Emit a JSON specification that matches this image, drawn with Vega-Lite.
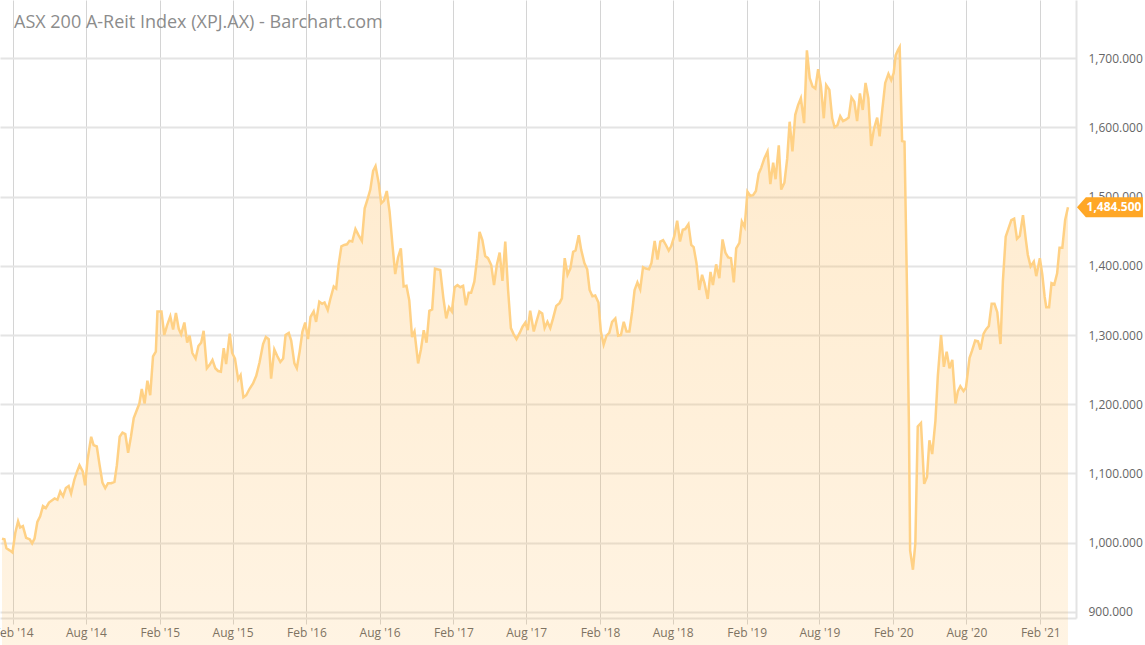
{
  "$schema": "https://vega.github.io/schema/vega-lite/v6.json",
  "width": 1076,
  "height": 618,
  "padding": {"left": 0, "top": 0, "right": 69, "bottom": 27},
  "autosize": {"type": "none"},
  "background": "#ffffff",
  "config": {"view": {"stroke": null}, "font": "Open Sans"},
  "title": {
    "text": "ASX 200 A-Reit Index (XPJ.AX) - Barchart.com",
    "anchor": "start",
    "frame": "group",
    "orient": "top",
    "offset": -46,
    "baseline": "alphabetic",
    "dx": 14,
    "fontSize": 18,
    "fontWeight": "normal",
    "color": "#8c8c8c",
    "font": "Open Sans"
  },
  "datasets": {
    "prices": [
      {"date": "2014-01-04", "close": 1006}, {"date": "2014-01-10", "close": 1005}, {"date": "2014-01-15", "close": 992}, {"date": "2014-01-23", "close": 989}, {"date": "2014-01-30", "close": 986},
      {"date": "2014-02-06", "close": 1014}, {"date": "2014-02-13", "close": 1031}, {"date": "2014-02-18", "close": 1022}, {"date": "2014-02-25", "close": 1024}, {"date": "2014-03-05", "close": 1007},
      {"date": "2014-03-14", "close": 1005}, {"date": "2014-03-20", "close": 999}, {"date": "2014-03-26", "close": 1006}, {"date": "2014-04-02", "close": 1030}, {"date": "2014-04-09", "close": 1038},
      {"date": "2014-04-16", "close": 1053}, {"date": "2014-04-23", "close": 1050}, {"date": "2014-05-01", "close": 1058}, {"date": "2014-05-08", "close": 1061}, {"date": "2014-05-15", "close": 1064},
      {"date": "2014-05-22", "close": 1062}, {"date": "2014-05-29", "close": 1074}, {"date": "2014-06-05", "close": 1067}, {"date": "2014-06-12", "close": 1079}, {"date": "2014-06-19", "close": 1082},
      {"date": "2014-06-25", "close": 1071}, {"date": "2014-07-03", "close": 1091}, {"date": "2014-07-10", "close": 1103}, {"date": "2014-07-16", "close": 1112}, {"date": "2014-07-24", "close": 1103},
      {"date": "2014-07-30", "close": 1083}, {"date": "2014-08-05", "close": 1120}, {"date": "2014-08-14", "close": 1153}, {"date": "2014-08-20", "close": 1141}, {"date": "2014-08-28", "close": 1139},
      {"date": "2014-09-04", "close": 1112}, {"date": "2014-09-11", "close": 1087}, {"date": "2014-09-18", "close": 1079}, {"date": "2014-09-25", "close": 1086}, {"date": "2014-10-03", "close": 1086},
      {"date": "2014-10-11", "close": 1088}, {"date": "2014-10-17", "close": 1112}, {"date": "2014-10-24", "close": 1153}, {"date": "2014-10-31", "close": 1159}, {"date": "2014-11-07", "close": 1157},
      {"date": "2014-11-14", "close": 1130}, {"date": "2014-11-21", "close": 1153}, {"date": "2014-11-28", "close": 1180}, {"date": "2014-12-06", "close": 1192}, {"date": "2014-12-12", "close": 1201},
      {"date": "2014-12-18", "close": 1222}, {"date": "2014-12-25", "close": 1201}, {"date": "2015-01-01", "close": 1234}, {"date": "2015-01-08", "close": 1213}, {"date": "2015-01-15", "close": 1269},
      {"date": "2015-01-22", "close": 1276}, {"date": "2015-01-26", "close": 1334}, {"date": "2015-02-05", "close": 1334}, {"date": "2015-02-12", "close": 1300}, {"date": "2015-02-19", "close": 1314},
      {"date": "2015-02-27", "close": 1327}, {"date": "2015-03-06", "close": 1308}, {"date": "2015-03-13", "close": 1332}, {"date": "2015-03-20", "close": 1309}, {"date": "2015-03-26", "close": 1301},
      {"date": "2015-04-03", "close": 1318}, {"date": "2015-04-10", "close": 1289}, {"date": "2015-04-16", "close": 1299}, {"date": "2015-04-23", "close": 1274}, {"date": "2015-05-01", "close": 1266},
      {"date": "2015-05-08", "close": 1284}, {"date": "2015-05-15", "close": 1289}, {"date": "2015-05-21", "close": 1306}, {"date": "2015-05-29", "close": 1252}, {"date": "2015-06-05", "close": 1257},
      {"date": "2015-06-12", "close": 1264}, {"date": "2015-06-19", "close": 1252}, {"date": "2015-06-26", "close": 1248}, {"date": "2015-07-03", "close": 1247}, {"date": "2015-07-10", "close": 1281},
      {"date": "2015-07-16", "close": 1258}, {"date": "2015-07-25", "close": 1302}, {"date": "2015-07-31", "close": 1274}, {"date": "2015-08-07", "close": 1266}, {"date": "2015-08-15", "close": 1236},
      {"date": "2015-08-21", "close": 1242}, {"date": "2015-08-28", "close": 1210}, {"date": "2015-09-04", "close": 1213}, {"date": "2015-09-12", "close": 1222}, {"date": "2015-09-21", "close": 1230},
      {"date": "2015-09-29", "close": 1241}, {"date": "2015-10-07", "close": 1260}, {"date": "2015-10-16", "close": 1287}, {"date": "2015-10-23", "close": 1297}, {"date": "2015-10-30", "close": 1294},
      {"date": "2015-11-05", "close": 1237}, {"date": "2015-11-13", "close": 1279}, {"date": "2015-11-20", "close": 1270}, {"date": "2015-11-28", "close": 1261}, {"date": "2015-12-05", "close": 1266},
      {"date": "2015-12-11", "close": 1300}, {"date": "2015-12-19", "close": 1303}, {"date": "2015-12-25", "close": 1292}, {"date": "2016-01-02", "close": 1259}, {"date": "2016-01-08", "close": 1252},
      {"date": "2016-01-15", "close": 1276}, {"date": "2016-01-22", "close": 1305}, {"date": "2016-01-29", "close": 1318}, {"date": "2016-02-05", "close": 1294}, {"date": "2016-02-11", "close": 1326},
      {"date": "2016-02-19", "close": 1334}, {"date": "2016-02-25", "close": 1319}, {"date": "2016-03-04", "close": 1348}, {"date": "2016-03-11", "close": 1345}, {"date": "2016-03-17", "close": 1347},
      {"date": "2016-03-25", "close": 1336}, {"date": "2016-03-31", "close": 1351}, {"date": "2016-04-09", "close": 1370}, {"date": "2016-04-15", "close": 1367}, {"date": "2016-04-21", "close": 1401},
      {"date": "2016-04-28", "close": 1428}, {"date": "2016-05-05", "close": 1430}, {"date": "2016-05-12", "close": 1431}, {"date": "2016-05-18", "close": 1436}, {"date": "2016-05-25", "close": 1435},
      {"date": "2016-06-02", "close": 1453}, {"date": "2016-06-10", "close": 1444}, {"date": "2016-06-18", "close": 1436}, {"date": "2016-06-25", "close": 1483}, {"date": "2016-07-02", "close": 1496},
      {"date": "2016-07-09", "close": 1510}, {"date": "2016-07-16", "close": 1537}, {"date": "2016-07-22", "close": 1544}, {"date": "2016-07-30", "close": 1519}, {"date": "2016-08-05", "close": 1490},
      {"date": "2016-08-12", "close": 1494}, {"date": "2016-08-19", "close": 1508}, {"date": "2016-08-26", "close": 1478}, {"date": "2016-09-02", "close": 1431}, {"date": "2016-09-09", "close": 1388},
      {"date": "2016-09-16", "close": 1412}, {"date": "2016-09-23", "close": 1425}, {"date": "2016-09-30", "close": 1370}, {"date": "2016-10-07", "close": 1371}, {"date": "2016-10-14", "close": 1350},
      {"date": "2016-10-21", "close": 1297}, {"date": "2016-10-27", "close": 1305}, {"date": "2016-11-05", "close": 1259}, {"date": "2016-11-12", "close": 1279}, {"date": "2016-11-19", "close": 1307},
      {"date": "2016-11-26", "close": 1289}, {"date": "2016-12-03", "close": 1335}, {"date": "2016-12-10", "close": 1337}, {"date": "2016-12-17", "close": 1396}, {"date": "2016-12-23", "close": 1395},
      {"date": "2016-12-30", "close": 1394}, {"date": "2017-01-07", "close": 1353}, {"date": "2017-01-14", "close": 1324}, {"date": "2017-01-21", "close": 1340}, {"date": "2017-01-28", "close": 1334},
      {"date": "2017-02-04", "close": 1369}, {"date": "2017-02-11", "close": 1372}, {"date": "2017-02-18", "close": 1369}, {"date": "2017-02-25", "close": 1371}, {"date": "2017-03-04", "close": 1343},
      {"date": "2017-03-11", "close": 1361}, {"date": "2017-03-17", "close": 1361}, {"date": "2017-03-25", "close": 1377}, {"date": "2017-04-01", "close": 1411}, {"date": "2017-04-07", "close": 1449},
      {"date": "2017-04-14", "close": 1437}, {"date": "2017-04-21", "close": 1414}, {"date": "2017-04-28", "close": 1411}, {"date": "2017-05-06", "close": 1401}, {"date": "2017-05-13", "close": 1372},
      {"date": "2017-05-20", "close": 1401}, {"date": "2017-05-27", "close": 1419}, {"date": "2017-06-03", "close": 1378}, {"date": "2017-06-10", "close": 1435}, {"date": "2017-06-17", "close": 1365},
      {"date": "2017-06-24", "close": 1310}, {"date": "2017-07-01", "close": 1301}, {"date": "2017-07-08", "close": 1294}, {"date": "2017-07-16", "close": 1303}, {"date": "2017-07-23", "close": 1312},
      {"date": "2017-07-30", "close": 1318}, {"date": "2017-08-05", "close": 1307}, {"date": "2017-08-11", "close": 1335}, {"date": "2017-08-20", "close": 1305}, {"date": "2017-08-27", "close": 1320},
      {"date": "2017-09-03", "close": 1334}, {"date": "2017-09-10", "close": 1331}, {"date": "2017-09-16", "close": 1310}, {"date": "2017-09-23", "close": 1319}, {"date": "2017-09-30", "close": 1310},
      {"date": "2017-10-07", "close": 1324}, {"date": "2017-10-15", "close": 1342}, {"date": "2017-10-23", "close": 1346}, {"date": "2017-10-29", "close": 1353}, {"date": "2017-11-05", "close": 1411},
      {"date": "2017-11-12", "close": 1387}, {"date": "2017-11-19", "close": 1396}, {"date": "2017-11-26", "close": 1420}, {"date": "2017-12-02", "close": 1422}, {"date": "2017-12-10", "close": 1444},
      {"date": "2017-12-16", "close": 1423}, {"date": "2017-12-24", "close": 1404}, {"date": "2017-12-31", "close": 1395}, {"date": "2018-01-06", "close": 1365}, {"date": "2018-01-13", "close": 1356},
      {"date": "2018-01-20", "close": 1357}, {"date": "2018-01-28", "close": 1347}, {"date": "2018-02-03", "close": 1305}, {"date": "2018-02-10", "close": 1286}, {"date": "2018-02-17", "close": 1299},
      {"date": "2018-02-24", "close": 1303}, {"date": "2018-03-03", "close": 1319}, {"date": "2018-03-11", "close": 1324}, {"date": "2018-03-18", "close": 1299}, {"date": "2018-03-25", "close": 1300},
      {"date": "2018-04-01", "close": 1319}, {"date": "2018-04-08", "close": 1305}, {"date": "2018-04-15", "close": 1305}, {"date": "2018-04-22", "close": 1334}, {"date": "2018-04-28", "close": 1365},
      {"date": "2018-05-05", "close": 1376}, {"date": "2018-05-12", "close": 1366}, {"date": "2018-05-19", "close": 1398}, {"date": "2018-05-26", "close": 1396}, {"date": "2018-06-03", "close": 1395},
      {"date": "2018-06-09", "close": 1404}, {"date": "2018-06-17", "close": 1436}, {"date": "2018-06-24", "close": 1409}, {"date": "2018-07-01", "close": 1435}, {"date": "2018-07-08", "close": 1437},
      {"date": "2018-07-15", "close": 1430}, {"date": "2018-07-22", "close": 1422}, {"date": "2018-07-28", "close": 1428}, {"date": "2018-08-05", "close": 1443}, {"date": "2018-08-12", "close": 1465},
      {"date": "2018-08-19", "close": 1435}, {"date": "2018-08-26", "close": 1452}, {"date": "2018-09-01", "close": 1453}, {"date": "2018-09-09", "close": 1460}, {"date": "2018-09-16", "close": 1430},
      {"date": "2018-09-22", "close": 1427}, {"date": "2018-09-29", "close": 1404}, {"date": "2018-10-06", "close": 1365}, {"date": "2018-10-13", "close": 1387}, {"date": "2018-10-19", "close": 1375},
      {"date": "2018-10-27", "close": 1352}, {"date": "2018-11-03", "close": 1391}, {"date": "2018-11-09", "close": 1372}, {"date": "2018-11-17", "close": 1402}, {"date": "2018-11-25", "close": 1382},
      {"date": "2018-12-03", "close": 1438}, {"date": "2018-12-10", "close": 1419}, {"date": "2018-12-17", "close": 1412}, {"date": "2018-12-24", "close": 1411}, {"date": "2018-12-31", "close": 1376},
      {"date": "2019-01-06", "close": 1425}, {"date": "2019-01-14", "close": 1433}, {"date": "2019-01-20", "close": 1464}, {"date": "2019-01-27", "close": 1456}, {"date": "2019-02-03", "close": 1507},
      {"date": "2019-02-10", "close": 1501}, {"date": "2019-02-17", "close": 1502}, {"date": "2019-02-24", "close": 1508}, {"date": "2019-03-03", "close": 1533}, {"date": "2019-03-09", "close": 1541},
      {"date": "2019-03-17", "close": 1555}, {"date": "2019-03-25", "close": 1565}, {"date": "2019-04-01", "close": 1518}, {"date": "2019-04-08", "close": 1549}, {"date": "2019-04-14", "close": 1525},
      {"date": "2019-04-22", "close": 1574}, {"date": "2019-04-28", "close": 1510}, {"date": "2019-05-06", "close": 1520}, {"date": "2019-05-13", "close": 1555}, {"date": "2019-05-19", "close": 1608},
      {"date": "2019-05-26", "close": 1565}, {"date": "2019-06-02", "close": 1618}, {"date": "2019-06-09", "close": 1632}, {"date": "2019-06-16", "close": 1642}, {"date": "2019-06-24", "close": 1606},
      {"date": "2019-07-01", "close": 1711}, {"date": "2019-07-08", "close": 1671}, {"date": "2019-07-15", "close": 1659}, {"date": "2019-07-22", "close": 1656}, {"date": "2019-07-29", "close": 1684},
      {"date": "2019-08-05", "close": 1659}, {"date": "2019-08-12", "close": 1613}, {"date": "2019-08-18", "close": 1661}, {"date": "2019-08-26", "close": 1654}, {"date": "2019-09-02", "close": 1613},
      {"date": "2019-09-08", "close": 1600}, {"date": "2019-09-15", "close": 1603}, {"date": "2019-09-22", "close": 1616}, {"date": "2019-09-29", "close": 1609}, {"date": "2019-10-06", "close": 1611},
      {"date": "2019-10-13", "close": 1614}, {"date": "2019-10-20", "close": 1643}, {"date": "2019-10-27", "close": 1637}, {"date": "2019-11-03", "close": 1609}, {"date": "2019-11-10", "close": 1649},
      {"date": "2019-11-17", "close": 1625}, {"date": "2019-11-24", "close": 1664}, {"date": "2019-12-01", "close": 1642}, {"date": "2019-12-08", "close": 1573}, {"date": "2019-12-15", "close": 1598},
      {"date": "2019-12-23", "close": 1614}, {"date": "2019-12-29", "close": 1587}, {"date": "2020-01-05", "close": 1627}, {"date": "2020-01-12", "close": 1664}, {"date": "2020-01-20", "close": 1677},
      {"date": "2020-01-27", "close": 1668}, {"date": "2020-02-02", "close": 1678}, {"date": "2020-02-07", "close": 1704}, {"date": "2020-02-13", "close": 1712}, {"date": "2020-02-17", "close": 1716},
      {"date": "2020-02-23", "close": 1580}, {"date": "2020-02-29", "close": 1579}, {"date": "2020-03-06", "close": 1373}, {"date": "2020-03-11", "close": 1171}, {"date": "2020-03-14", "close": 989},
      {"date": "2020-03-21", "close": 961}, {"date": "2020-03-27", "close": 999}, {"date": "2020-04-02", "close": 1168}, {"date": "2020-04-10", "close": 1173}, {"date": "2020-04-18", "close": 1085},
      {"date": "2020-04-25", "close": 1095}, {"date": "2020-05-01", "close": 1148}, {"date": "2020-05-08", "close": 1128}, {"date": "2020-05-16", "close": 1176}, {"date": "2020-05-22", "close": 1241},
      {"date": "2020-05-30", "close": 1300}, {"date": "2020-06-06", "close": 1254}, {"date": "2020-06-13", "close": 1276}, {"date": "2020-06-20", "close": 1252}, {"date": "2020-06-27", "close": 1264},
      {"date": "2020-07-05", "close": 1201}, {"date": "2020-07-11", "close": 1219}, {"date": "2020-07-17", "close": 1226}, {"date": "2020-07-25", "close": 1219}, {"date": "2020-07-31", "close": 1224},
      {"date": "2020-08-09", "close": 1267}, {"date": "2020-08-15", "close": 1277}, {"date": "2020-08-23", "close": 1292}, {"date": "2020-08-30", "close": 1291}, {"date": "2020-09-05", "close": 1279},
      {"date": "2020-09-13", "close": 1302}, {"date": "2020-09-19", "close": 1308}, {"date": "2020-09-26", "close": 1313}, {"date": "2020-10-03", "close": 1345}, {"date": "2020-10-10", "close": 1345},
      {"date": "2020-10-17", "close": 1333}, {"date": "2020-10-25", "close": 1287}, {"date": "2020-10-31", "close": 1378}, {"date": "2020-11-07", "close": 1442}, {"date": "2020-11-14", "close": 1454},
      {"date": "2020-11-21", "close": 1466}, {"date": "2020-11-28", "close": 1468}, {"date": "2020-12-05", "close": 1439}, {"date": "2020-12-12", "close": 1443}, {"date": "2020-12-20", "close": 1473},
      {"date": "2020-12-27", "close": 1438}, {"date": "2021-01-01", "close": 1416}, {"date": "2021-01-08", "close": 1399}, {"date": "2021-01-16", "close": 1406}, {"date": "2021-01-22", "close": 1385},
      {"date": "2021-01-31", "close": 1411}, {"date": "2021-02-06", "close": 1388}, {"date": "2021-02-12", "close": 1355}, {"date": "2021-02-16", "close": 1340}, {"date": "2021-02-23", "close": 1340},
      {"date": "2021-03-01", "close": 1375}, {"date": "2021-03-08", "close": 1373}, {"date": "2021-03-15", "close": 1389}, {"date": "2021-03-21", "close": 1426}, {"date": "2021-03-28", "close": 1426},
      {"date": "2021-04-04", "close": 1466}, {"date": "2021-04-11", "close": 1484.5}
    ],
    "last": [{"date": "2021-04-11", "close": 1484.5}]
  },
  "layer": [
    {
      "data": {"name": "prices"},
      "mark": {
        "type": "area",
        "interpolate": "linear",
        "color": {
          "gradient": "linear",
          "x1": 0, "y1": 0, "x2": 0, "y2": 1,
          "stops": [
            {"offset": 0, "color": "rgba(255,183,77,0.42)"},
            {"offset": 1, "color": "rgba(255,183,77,0.03)"}
          ]
        },
        "line": {"color": "#ffd185", "strokeWidth": 2.5}
      },
      "encoding": {
        "x": {
          "field": "date",
          "type": "temporal",
          "scale": {"domain": [{"year": 2013, "month": 12, "date": 30}, {"year": 2021, "month": 5, "date": 1}]},
          "axis": {
            "title": null,
            "values": [
              {"year": 2014, "month": 2, "date": 1}, {"year": 2014, "month": 8, "date": 1},
              {"year": 2015, "month": 2, "date": 1}, {"year": 2015, "month": 8, "date": 1},
              {"year": 2016, "month": 2, "date": 1}, {"year": 2016, "month": 8, "date": 1},
              {"year": 2017, "month": 2, "date": 1}, {"year": 2017, "month": 8, "date": 1},
              {"year": 2018, "month": 2, "date": 1}, {"year": 2018, "month": 8, "date": 1},
              {"year": 2019, "month": 2, "date": 1}, {"year": 2019, "month": 8, "date": 1},
              {"year": 2020, "month": 2, "date": 1}, {"year": 2020, "month": 8, "date": 1},
              {"year": 2021, "month": 2, "date": 1}
            ],
            "format": "%b '%y",
            "labelFlush": false,
            "labelOverlap": false,
            "grid": true,
            "gridColor": "#d4d4d4",
            "gridWidth": 1,
            "tickColor": "#d4d4d4",
            "tickSize": 6,
            "domainColor": "#e3e3e3",
            "domainWidth": 2,
            "labelColor": "#666666",
            "labelFontSize": 12,
            "labelFont": "Open Sans",
            "labelPadding": 3
          }
        },
        "y": {
          "field": "close",
          "type": "quantitative",
          "scale": {"domain": [891.3, 1783.8], "nice": false, "zero": false},
          "axis": {
            "title": null,
            "orient": "right",
            "values": [900, 1000, 1100, 1200, 1300, 1400, 1500, 1600, 1700],
            "format": ",.3f",
            "labelFlush": false,
            "grid": true,
            "gridColor": "#e4e4e4",
            "gridWidth": 2,
            "ticks": false,
            "domainColor": "#e3e3e3",
            "domainWidth": 2,
            "labelColor": "#666666",
            "labelFontSize": 12,
            "labelFont": "Open Sans",
            "labelPadding": 12
          }
        }
      }
    },
    {
      "data": {"name": "last"},
      "mark": {
        "type": "point",
        "shape": "M-1,0L-0.73,-0.3L1,-0.3L1,0.3L-0.73,0.3Z",
        "size": 4356,
        "filled": true,
        "color": "#ffa726",
        "opacity": 1,
        "strokeWidth": 0,
        "xOffset": 42
      },
      "encoding": {
        "x": {"field": "date", "type": "temporal"},
        "y": {"field": "close", "type": "quantitative"}
      }
    },
    {
      "data": {"name": "last"},
      "mark": {
        "type": "text",
        "color": "#ffffff",
        "font": "Open Sans",
        "fontWeight": "bold",
        "fontSize": 12,
        "align": "center",
        "baseline": "middle",
        "dx": 46
      },
      "encoding": {
        "x": {"field": "date", "type": "temporal"},
        "y": {"field": "close", "type": "quantitative"},
        "text": {"field": "close", "type": "quantitative", "format": ",.3f"}
      }
    }
  ]
}
